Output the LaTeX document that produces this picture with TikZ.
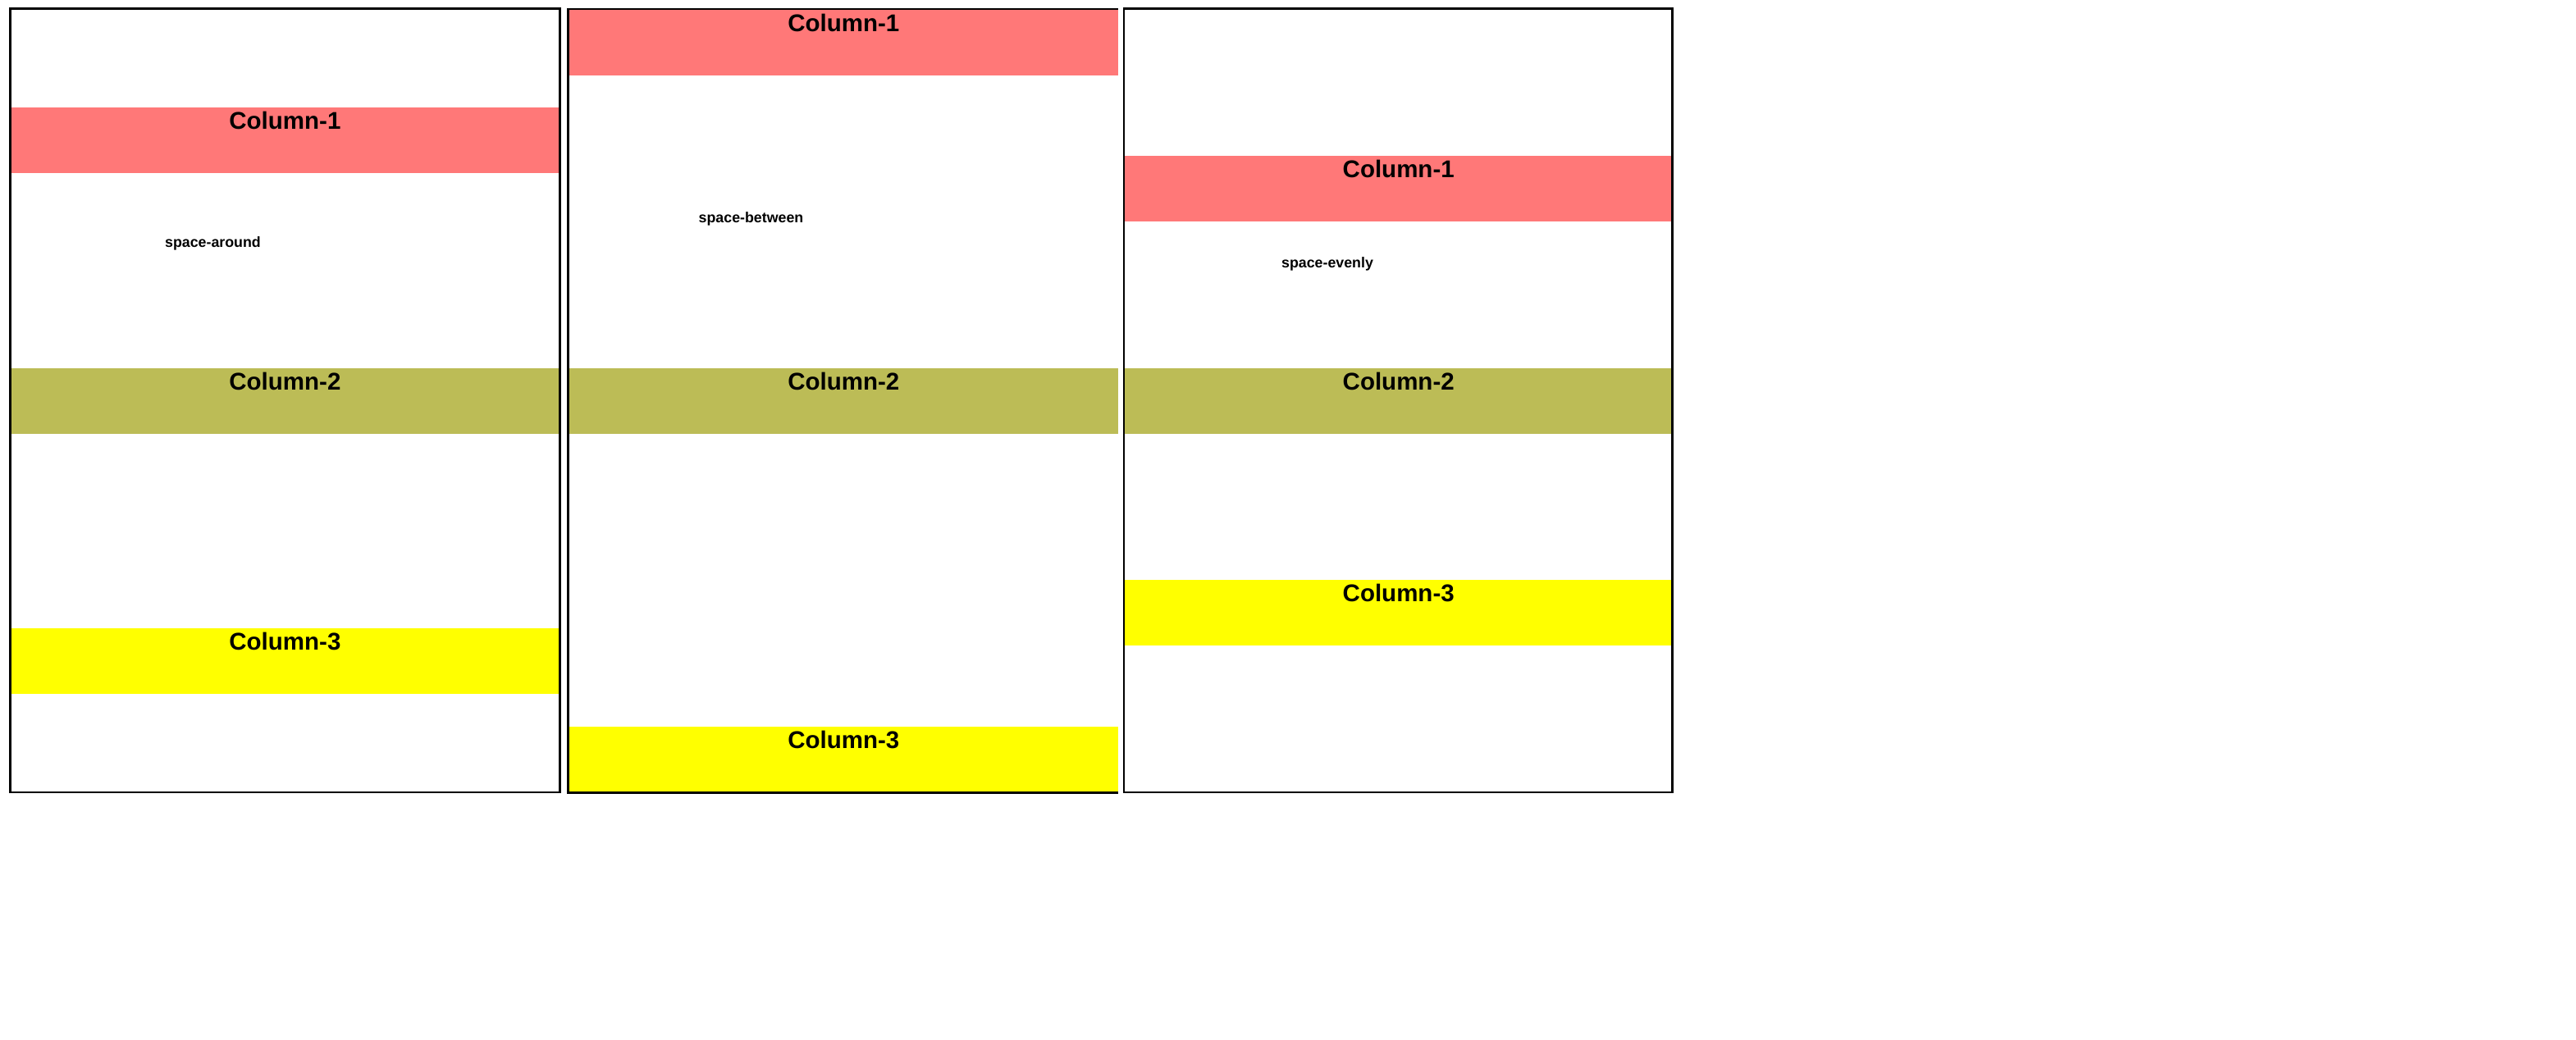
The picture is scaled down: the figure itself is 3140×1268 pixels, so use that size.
\documentclass[tikz,border=0pt]{standalone}
\usepackage{fontspec}
\setmainfont{Liberation Sans}
\definecolor{bandpink}{RGB}{255,120,120}
\definecolor{bandolive}{RGB}{188,188,86}
\definecolor{bandyellow}{RGB}{255,255,0}
\tikzset{
  band/.style={draw=none, inner sep=0pt, outer sep=0pt, anchor=north west,
    text height=26.5pt, text depth=53.5pt, minimum height=80pt,
    font=\bfseries\fontsize{29.5}{30}\selectfont},
  band1/.style={band, minimum width=667.2pt},
  band2/.style={band, minimum width=668.5pt},
  band3/.style={band, minimum width=667.4pt},
  frame/.style={draw=black, line width=2.4pt},
  note/.style={anchor=base, inner sep=0pt, font=\bfseries\fontsize{17.8}{18}\selectfont}
}
\begin{document}
\begin{tikzpicture}[x=1pt,y=-1pt]
\useasboundingbox[fill=white] (0,0) rectangle (3140,1268);
% container 1: space-around
\node[band1, fill=bandpink]   (a1) at (13.8,130.8) {Column-1};
\node[band1, fill=bandolive]  (a2) at (13.8,448.5) {Column-2};
\node[band1, fill=bandyellow] (a3) at (13.8,766.2) {Column-3};
\node[note] (na) at (259.5,301.5) {space-around};
\node[frame, inner sep=0pt, outer sep=0pt, anchor=north west, minimum width=670pt, minimum height=955.6pt] (boxa) at (12.4,10.4) {};
% container 2: space-between
\node[band2, fill=bandpink]   (b1) at (694,12) {Column-1};
\node[band2, fill=bandolive]  (b2) at (694,449) {Column-2};
\node[band2, fill=bandyellow] (b3) at (694,886) {Column-3};
\node[note] (nb) at (915.5,271.5) {space-between};
\coordinate (btr) at (1362.5,11);
\coordinate (btl) at (692.5,11);
\coordinate (bbl) at (692.5,966.3);
\coordinate (bbr) at (1362.5,966.3);
\draw[frame] (btr) -- (btl) -- (bbl) -- (bbr);
% container 3: space-evenly
\node[band3, fill=bandpink]   (c1) at (1371,190.3) {Column-1};
\node[band3, fill=bandolive]  (c2) at (1371,448.5) {Column-2};
\node[band3, fill=bandyellow] (c3) at (1371,706.8) {Column-3};
\node[note] (nc) at (1618,326) {space-evenly};
\node[frame, inner sep=0pt, outer sep=0pt, anchor=north west, minimum width=668.8pt, minimum height=955.6pt] (boxc) at (1369.7,10.4) {};
\end{tikzpicture}
\end{document}
